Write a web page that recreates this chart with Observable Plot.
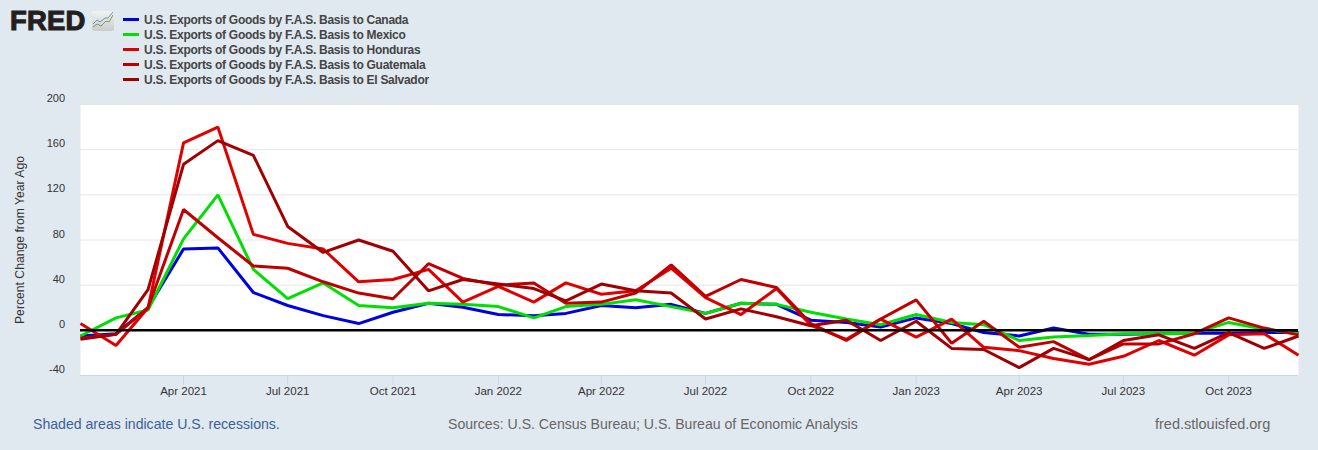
<!DOCTYPE html>
<html><head><meta charset="utf-8">
<script src="https://cdn.jsdelivr.net/npm/d3@7"></script>
<script src="https://cdn.jsdelivr.net/npm/@observablehq/plot@0.6"></script>
<style>
html,body{margin:0;padding:0;background:#e1e9f0;width:1318px;height:450px;overflow:hidden;font-family:"Liberation Sans",Arial,sans-serif}
#header{position:relative;height:85px}
#logo{position:absolute;left:10px;top:5px;font:bold 28px/32px "Liberation Sans";color:#231f20;-webkit-text-stroke:1.1px #231f20;transform-origin:0 0;transform:scaleX(.98);letter-spacing:.2px}
#icon{position:absolute;left:92px;top:11px}
#legend{position:absolute;left:123px;top:12px}
.row{display:flex;align-items:center;height:15px;font:bold 12px/15px "Liberation Sans";letter-spacing:-.28px;color:#444}
.row .tx{position:relative;top:1px}
.sw{width:16px;height:3px;margin-right:5px}
#footer{position:relative;height:45px;font:14.1px/18px "Liberation Sans"}
#footer span{position:absolute;top:10px;white-space:nowrap}
svg{display:block}
</style></head><body>
<div id="header">
<div id="logo">FRED</div>
<svg id="icon" width="22" height="20" viewBox="0 0 22 20"><defs><linearGradient id="ig" x1="0" y1="0" x2="0" y2="1"><stop offset="0" stop-color="#f1f3f3"/><stop offset="1" stop-color="#c9cccb"/></linearGradient></defs><rect width="22" height="20" rx="2" fill="url(#ig)"/><path d="M1 13 5 9 8 11 13 7 16 7 21 1" fill="none" stroke="#6a93b5" stroke-width="1"/><path d="M1 16 5 13 9 15 14 10 17 11 21 4" fill="none" stroke="#7a9a55" stroke-width="1"/></svg>
<div id="legend"></div>
</div>
<div id="chart"></div>
<div id="footer">
<span style="left:33px;color:#3a6196">Shaded areas indicate U.S. recessions.</span>
<span style="left:448px;color:#666">Sources: U.S. Census Bureau; U.S. Bureau of Economic Analysis</span>
<span style="left:1155px;color:#666;font-size:14.5px">fred.stlouisfed.org</span>
</div>
<script>
const seriesNames = ["U.S. Exports of Goods by F.A.S. Basis to Canada","U.S. Exports of Goods by F.A.S. Basis to Mexico","U.S. Exports of Goods by F.A.S. Basis to Honduras","U.S. Exports of Goods by F.A.S. Basis to Guatemala","U.S. Exports of Goods by F.A.S. Basis to El Salvador"];
const seriesColors = ["#0000e0","#00e000","#e00000","#c00000","#a00000"];
const months = d3.utcMonth.range(new Date(Date.UTC(2021,0,1)), new Date(Date.UTC(2024,0,1)));
const canada = [-5,-3,20,72,73,33.5,22,13,6,16,24,20.5, 14,13,15,22,20,23,15,24,23,9,7,3, 11,6,-2,-5,2,-3.5,-3.5,-3,-2.5,-2.5,-2,-2];
const mexico = [-5,11,18,81,120,54,28,42,22,20,24,23, 21,11,21,23,27,21,15,24,23,16,10,5, 14,7,5,-9,-6,-4.5,-3,-3,-2.5,7,1,-3];
const honduras = [6,-13.5,20,166,180,85,77,72,43,45,54,25, 39,25,42,32,35,55,29,14,37,4.5,-8,10, -6,10,-15,-18,-25,-30,-23,-9,-22,-4,-3,-22];
const guatemala = [-7,-3.5,20,107,82,57,55,43,33,28,59,46, 40,42,24,25,33,58,30,45,38,6,-9,10, 27,-11.5,8,-15,-10,-26,-12,-12,-3,11,2,-4];
const elSalvador = [-8,-3.5,36,147,168,155,92,69,80,70,35,45, 41,37,26,41,35,33,10,19,12,4,9,-9, 8,-16,-17,-33,-16,-26,-9,-4,-16,-2,-16,-5];
const allSeries = [canada,mexico,honduras,guatemala,elSalvador];
const yTicks = [-40,0,40,80,120,160,200];
const xTicks = [[2021,3],[2021,6],[2021,9],[2022,0],[2022,3],[2022,6],[2022,9],[2023,0],[2023,3],[2023,6],[2023,9]].map(([y,m])=>new Date(Date.UTC(y,m,1)));
const yLabel = "Percent Change from Year Ago";

const legend = d3.select("#legend");
seriesNames.forEach((n,i)=>{
  const r = legend.append("div").attr("class","row");
  r.append("div").attr("class","sw").style("background",seriesColors[i]);
  r.append("div").attr("class","tx").text(n);
});

const table = allSeries.flatMap((vals,i)=>vals.map((v,j)=>({date:months[j],value:v,name:seriesNames[i]})));
const plot = Plot.plot({
  width:1318,height:320,
  marginLeft:80,marginRight:20,marginTop:19,marginBottom:30,
  style:{background:"transparent",fontFamily:"'Liberation Sans',Arial,sans-serif",fontSize:"11px",color:"#333"},
  x:{type:"utc",domain:[months[0],months[35]]},
  y:{domain:[-40,200]},
  color:{domain:seriesNames,range:seriesColors},
  marks:[
    Plot.frame({fill:"white",stroke:null}),
    Plot.gridY(yTicks,{stroke:"#e6e6e6",strokeOpacity:1}),
    Plot.ruleY([-40],{stroke:"#ccd6eb"}),
    Plot.axisY(yTicks,{anchor:"left",tickSize:0,tickPadding:15.5,dy:-6,label:null,fill:"#333",fontSize:11,tickFormat:d=>String(d)}),
    Plot.axisX(xTicks,{anchor:"bottom",tickSize:10,tickPadding:1,stroke:"#ccd6eb",strokeOpacity:1,tickFormat:d3.utcFormat("%b %Y"),label:null,fill:"#333",fontSize:11.5}),
    Plot.line(table,{x:"date",y:"value",z:"name",stroke:"name",strokeWidth:3,strokeLinejoin:"miter",strokeLinecap:"butt",curve:"linear"}),
    Plot.ruleY([0],{stroke:"black",strokeWidth:2.5}),
    Plot.text([yLabel],{frameAnchor:"left",dx:-60,rotate:-90,fill:"#333",fontSize:12.2,textAnchor:"middle"})
  ]
});
document.getElementById("chart").appendChild(plot);
</script>
</body></html>
